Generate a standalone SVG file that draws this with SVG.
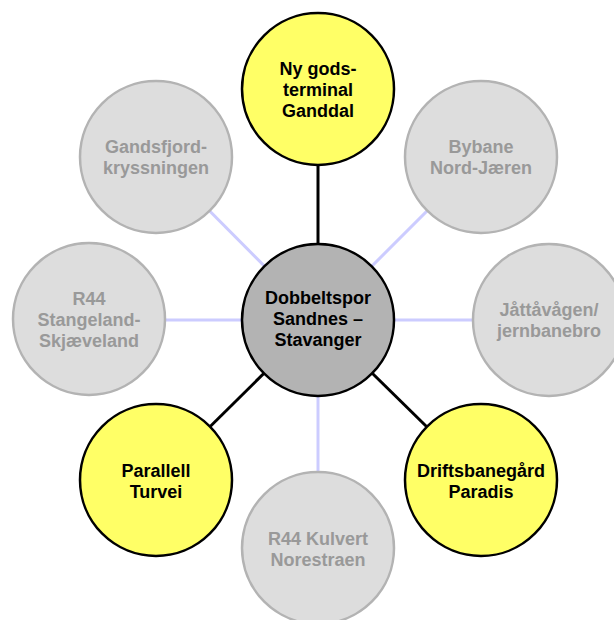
<svg xmlns="http://www.w3.org/2000/svg" width="614" height="620" viewBox="0 0 614 620">
<style>
.c-hi{fill:#ffff66;stroke:#000;stroke-width:2.5}
.c-lo{fill:#dddddd;stroke:#b3b3b3;stroke-width:2.5}
.c-main{fill:#b3b3b3;stroke:#000;stroke-width:2.5}
.t{font-family:"Liberation Sans",Arial,sans-serif;font-weight:bold;font-size:18px;text-anchor:middle}
.t-hi{fill:#000}
.t-lo{fill:#999999}
.l-hi{stroke:#000;stroke-width:3}
.l-lo{stroke:#ccccff;stroke-width:3}
</style>
<rect width="614" height="620" fill="#fff"/>
<g id="connectors">
<line class="l-hi" x1="318" y1="320" x2="318" y2="89"/>
<line class="l-lo" x1="318" y1="320" x2="481" y2="157"/>
<line class="l-lo" x1="318" y1="320" x2="549" y2="320"/>
<line class="l-hi" x1="318" y1="320" x2="481" y2="480"/>
<line class="l-lo" x1="318" y1="320" x2="318" y2="548"/>
<line class="l-hi" x1="318" y1="320" x2="156" y2="480"/>
<line class="l-lo" x1="318" y1="320" x2="89" y2="320"/>
<line class="l-lo" x1="318" y1="320" x2="156" y2="157"/>
</g>
<g id="node-ganddal">
<circle class="c-hi" cx="318" cy="89" r="76"/>
<text class="t t-hi" x="318" y="75">Ny gods-</text>
<text class="t t-hi" x="318" y="96">terminal</text>
<text class="t t-hi" x="318" y="117">Ganddal</text>
</g>
<g id="node-bybane">
<circle class="c-lo" cx="481" cy="157" r="76"/>
<text class="t t-lo" x="481" y="153">Bybane</text>
<text class="t t-lo" x="481" y="174">Nord-Jæren</text>
</g>
<g id="node-jattavagen">
<circle class="c-lo" cx="549" cy="320" r="76"/>
<text class="t t-lo" x="549" y="316">Jåttåvågen/</text>
<text class="t t-lo" x="549" y="337">jernbanebro</text>
</g>
<g id="node-paradis">
<circle class="c-hi" cx="481" cy="480" r="76"/>
<text class="t t-hi" x="481" y="477">Driftsbanegård</text>
<text class="t t-hi" x="481" y="498">Paradis</text>
</g>
<g id="node-kulvert">
<circle class="c-lo" cx="318" cy="548" r="76"/>
<text class="t t-lo" x="318" y="545">R44 Kulvert</text>
<text class="t t-lo" x="318" y="566">Norestraen</text>
</g>
<g id="node-turvei">
<circle class="c-hi" cx="156" cy="480" r="76"/>
<text class="t t-hi" x="156" y="477">Parallell</text>
<text class="t t-hi" x="156" y="498">Turvei</text>
</g>
<g id="node-stangeland">
<circle class="c-lo" cx="89" cy="319" r="76"/>
<text class="t t-lo" x="89" y="305">R44</text>
<text class="t t-lo" x="89" y="326">Stangeland-</text>
<text class="t t-lo" x="89" y="347">Skjæveland</text>
</g>
<g id="node-gandsfjord">
<circle class="c-lo" cx="156" cy="157" r="76"/>
<text class="t t-lo" x="156" y="153">Gandsfjord-</text>
<text class="t t-lo" x="156" y="174">kryssningen</text>
</g>
<g id="node-center">
<circle class="c-main" cx="318" cy="320" r="76"/>
<text class="t t-hi" x="318" y="304">Dobbeltspor</text>
<text class="t t-hi" x="318" y="325">Sandnes –</text>
<text class="t t-hi" x="318" y="346">Stavanger</text>
</g>
</svg>
